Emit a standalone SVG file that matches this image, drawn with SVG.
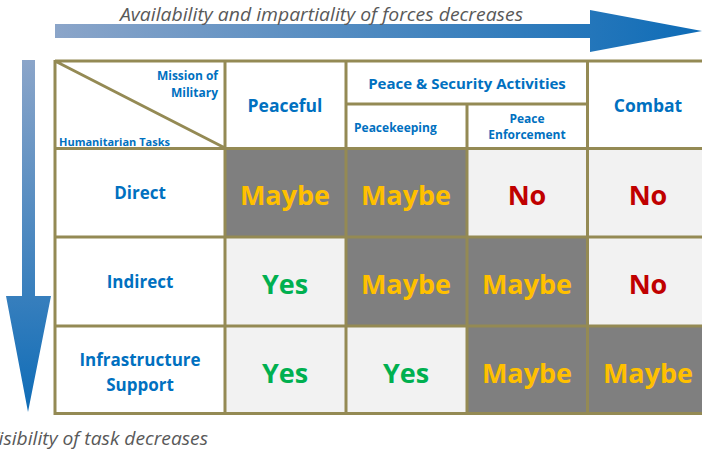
<svg xmlns="http://www.w3.org/2000/svg" width="702" height="451" viewBox="0 0 702 451">
<defs>
<linearGradient id="gh" x1="0" y1="0" x2="1" y2="0"><stop offset="0" stop-color="#8ba5c9"/><stop offset="1" stop-color="#0e6cb7"/></linearGradient>
<linearGradient id="gv" x1="0" y1="0" x2="0" y2="1"><stop offset="0" stop-color="#8ba5c9"/><stop offset="1" stop-color="#0e6cb7"/></linearGradient>
<style>
.ax{font-family:"Open Sans","Liberation Sans",sans-serif;font-style:italic;font-size:18.5px;fill:#595959}
.h{font-family:"Open Sans","Liberation Sans",sans-serif;font-weight:bold;fill:#0070c0}
.big{font-family:"Open Sans","Liberation Sans",sans-serif;font-weight:bold;font-size:27px;text-anchor:middle}
.dk{fill:#7f7f7f}.lt{fill:#f2f2f2}.wt{fill:#ffffff}
.mb{fill:#ffc000}.no{fill:#c00000}.ys{fill:#00b050}
.g{stroke:#948a54;stroke-width:3;fill:none}
</style>
</defs>
<g id="axes">
<polygon points="55,24 590,24 590,10 702,31 590,52 590,38 55,38" fill="url(#gh)"/>
<text class="ax" x="120" y="21" textLength="403" lengthAdjust="spacingAndGlyphs">Availability and impartiality of forces decreases</text>
<polygon points="22,60 35,60 35,296 51,296 28,412 6,296 22,296" fill="url(#gv)"/>
<text class="ax" x="-12" y="445" textLength="220" lengthAdjust="spacingAndGlyphs">Visibility of task decreases</text>
</g>
<g id="cells">
<rect class="wt" x="55" y="60" width="660" height="354"/>
<rect class="dk" x="225" y="149" width="242" height="88"/>
<rect class="lt" x="467" y="149" width="250" height="88"/>
<rect class="lt" x="225" y="237" width="121" height="89"/>
<rect class="dk" x="346" y="237" width="241" height="89"/>
<rect class="lt" x="587" y="237" width="130" height="89"/>
<rect class="lt" x="225" y="326" width="242" height="88"/>
<rect class="dk" x="467" y="326" width="250" height="88"/>
</g>
<g id="grid">
<path class="g" d="M55,61 H717 M346,104 H588 M55,148.5 H717 M55,237 H717 M55,326 H717 M55,413.5 H717 M55,60 V415 M225,60 V415 M346,60 V415 M467,104 V415 M587.5,60 V415 M55,61 L225,148"/>
</g>
<g id="header">
<text class="h" font-size="12" text-anchor="end" x="218" y="80">Mission of</text>
<text class="h" font-size="12" text-anchor="end" x="218" y="97">Military</text>
<text class="h" font-size="11" x="59" y="146">Humanitarian Tasks</text>
<text class="h" font-size="17.5" text-anchor="middle" x="285" y="112">Peaceful</text>
<text class="h" font-size="15" text-anchor="middle" x="467" y="89">Peace &amp; Security Activities</text>
<text class="h" font-size="12" x="354" y="132">Peacekeeping</text>
<text class="h" font-size="12" text-anchor="middle" x="527" y="123">Peace</text>
<text class="h" font-size="12" text-anchor="middle" x="527" y="139">Enforcement</text>
<text class="h" font-size="17.5" text-anchor="middle" x="648" y="112">Combat</text>
</g>
<g id="rows">
<text class="h" font-size="17" text-anchor="middle" x="140" y="199">Direct</text>
<text class="h" font-size="17" text-anchor="middle" x="140" y="288">Indirect</text>
<text class="h" font-size="17" text-anchor="middle" x="140" y="366">Infrastructure</text>
<text class="h" font-size="17" text-anchor="middle" x="140" y="391">Support</text>
</g>
<g id="values">
<text class="big mb" x="285" y="205">Maybe</text>
<text class="big mb" x="406" y="205">Maybe</text>
<text class="big no" x="527" y="205">No</text>
<text class="big no" x="648" y="205">No</text>
<text class="big ys" x="285" y="294">Yes</text>
<text class="big mb" x="406" y="294">Maybe</text>
<text class="big mb" x="527" y="294">Maybe</text>
<text class="big no" x="648" y="294">No</text>
<text class="big ys" x="285" y="383">Yes</text>
<text class="big ys" x="406" y="383">Yes</text>
<text class="big mb" x="527" y="383">Maybe</text>
<text class="big mb" x="648" y="383">Maybe</text>
</g>
</svg>
